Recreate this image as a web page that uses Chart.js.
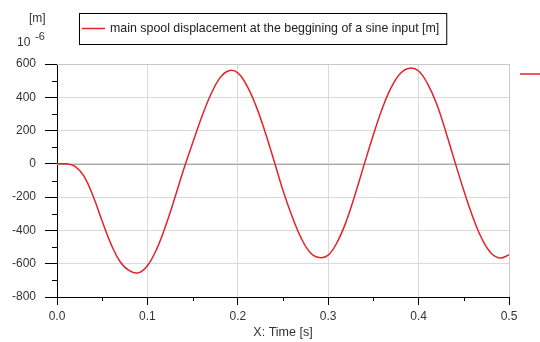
<!DOCTYPE html>
<html>
<head>
<meta charset="utf-8">
<script src="https://cdn.jsdelivr.net/npm/chart.js@4/dist/chart.umd.min.js"></script>
<style>
  html, body { margin: 0; padding: 0; background: #fff; }
  #wrap { width: 540px; height: 342px; }
</style>
</head>
<body>
<div id="wrap"><canvas id="c" width="540" height="342"></canvas></div>
<script>
// ---- data ----
const seriesName = 'main spool displacement at the beggining of a sine input [m]';
const times = [0.00,0.01,0.02,0.03,0.04,0.05,0.06,0.07,0.08,0.09,
               0.10,0.11,0.12,0.13,0.14,0.15,0.16,0.17,0.18,0.19,
               0.20,0.21,0.22,0.23,0.24,0.25,0.26,0.27,0.28,0.29,
               0.30,0.31,0.32,0.33,0.34,0.35,0.36,0.37,0.38,0.39,
               0.40,0.41,0.42,0.43,0.44,0.45,0.46,0.47,0.48,0.49,0.50];
const displacement = [0,0,-15,-75,-195,-345,-485,-590,-642,-655,
                      -612,-515,-375,-210,-35,125,280,415,515,560,
                      547,470,350,195,20,-160,-315,-445,-532,-563,
                      -548,-470,-345,-180,0,175,335,462,545,575,
                      558,480,360,195,15,-160,-320,-450,-535,-565,-548];
const xTicks = [0.0,0.1,0.2,0.3,0.4,0.5];
const yTicks = [-800,-600,-400,-200,0,200,400,600];
const xTitle = 'X: Time [s]';
const yUnit = '[m]';

const FONT = 'Liberation Sans, Arial, sans-serif';
const RED = '#e3232c';

const decor = {
  id: 'decor',
  beforeDatasetsDraw(chart) {
    const {ctx, chartArea: a, scales: {x, y}} = chart;
    ctx.save();
    const y0 = y.getPixelForValue(0);
    ctx.strokeStyle = '#a8a8a8';
    ctx.lineWidth = 1;
    ctx.beginPath();
    ctx.moveTo(a.left, Math.round(y0) + 0.5);
    ctx.lineTo(a.right, Math.round(y0) + 0.5);
    ctx.stroke();
    ctx.strokeStyle = '#c8c8c8';
    ctx.beginPath();
    ctx.moveTo(a.left, Math.round(a.top) + 0.5);
    ctx.lineTo(Math.round(a.right) + 0.5, Math.round(a.top) + 0.5);
    ctx.lineTo(Math.round(a.right) + 0.5, a.bottom);
    ctx.stroke();
    ctx.restore();
  },
  afterDraw(chart) {
    const {ctx, chartArea: a, scales: {x, y}} = chart;
    ctx.save();
    ctx.strokeStyle = '#000';
    ctx.lineWidth = 1;
    ctx.beginPath();
    for (let i = 0; i < yTicks.length - 1; i++) {
      const v = (yTicks[i] + yTicks[i + 1]) / 2;
      const py = Math.round(y.getPixelForValue(v)) + 0.5;
      ctx.moveTo(a.left - 5, py);
      ctx.lineTo(a.left, py);
    }
    for (let i = 0; i < xTicks.length - 1; i++) {
      const v = (xTicks[i] + xTicks[i + 1]) / 2;
      const px = Math.round(x.getPixelForValue(v)) + 0.5;
      ctx.moveTo(px, a.bottom);
      ctx.lineTo(px, a.bottom + 4);
    }
    ctx.stroke();

    ctx.fillStyle = '#333';
    ctx.font = '12px ' + FONT;
    ctx.textBaseline = 'middle';
    ctx.textAlign = 'left';
    ctx.fillText(yUnit, a.left - 28, a.top - 45);
    ctx.fillText('10', a.left - 40, a.top - 21);
    ctx.font = '11px ' + FONT;
    ctx.fillText('-6', a.left - 22, a.top - 27);

    ctx.font = '12.4px ' + FONT;
    const tw = ctx.measureText(seriesName).width;
    const bx = a.left + 22, by = a.top - 51;
    const bw = 31 + tw + 7, bh = 31;
    ctx.strokeStyle = '#000';
    ctx.lineWidth = 1;
    ctx.strokeRect(bx + 0.5, by + 0.5, bw, bh);
    ctx.strokeStyle = RED;
    ctx.lineWidth = 1.5;
    ctx.beginPath();
    ctx.moveTo(bx + 3, by + 15.5);
    ctx.lineTo(bx + 26, by + 15.5);
    ctx.stroke();
    ctx.fillStyle = '#222';
    ctx.textBaseline = 'middle';
    ctx.fillText(seriesName, bx + 31, by + 16);

    ctx.strokeStyle = RED;
    ctx.lineWidth = 1.5;
    ctx.beginPath();
    ctx.moveTo(a.right + 11, a.top + 10);
    ctx.lineTo(a.right + 31, a.top + 10);
    ctx.stroke();
    ctx.restore();
  }
};

new Chart(document.getElementById('c'), {
  type: 'line',
  data: {
    datasets: [{
      label: seriesName,
      data: times.map((t, i) => ({x: t, y: displacement[i]})),
      borderColor: RED,
      borderWidth: 1.5,
      pointRadius: 0,
      fill: false,
      tension: 0.4
    }]
  },
  options: {
    responsive: false,
    animation: false,
    devicePixelRatio: 1,
    layout: { padding: { top: 64, right: 31, left: 0, bottom: 0 } },
    plugins: { legend: { display: false }, tooltip: { enabled: false } },
    scales: {
      x: {
        type: 'linear',
        min: 0, max: 0.5,
        afterBuildTicks: s => { s.ticks = xTicks.map(v => ({value: v})); },
        afterFit: s => { s.height = 45; },
        ticks: {
          callback: v => Number(v).toFixed(1),
          color: '#333',
          font: { family: FONT, size: 12 },
          padding: 4,
          maxRotation: 0
        },
        grid: {
          color: '#dadada',
          borderDash: [2, 2],
          tickColor: '#000',
          tickLength: 8,
          tickBorderDash: []
        },
        border: { display: true, color: '#000', width: 1 },
        title: {
          display: true,
          text: xTitle,
          color: '#333',
          font: { family: FONT, size: 12.5 },
          padding: { top: 2, bottom: 2 }
        }
      },
      y: {
        type: 'linear',
        min: -800, max: 600,
        afterBuildTicks: s => { s.ticks = yTicks.map(v => ({value: v})); },
        afterFit: s => { s.width = 57; },
        ticks: {
          callback: v => String(v),
          color: '#333',
          font: { family: FONT, size: 12 },
          padding: 9
        },
        grid: {
          color: '#dadada',
          borderDash: [2, 2],
          tickColor: '#000',
          tickLength: 12,
          tickBorderDash: []
        },
        border: { display: true, color: '#000', width: 1 }
      }
    }
  },
  plugins: [decor]
});
</script>
</body>
</html>
